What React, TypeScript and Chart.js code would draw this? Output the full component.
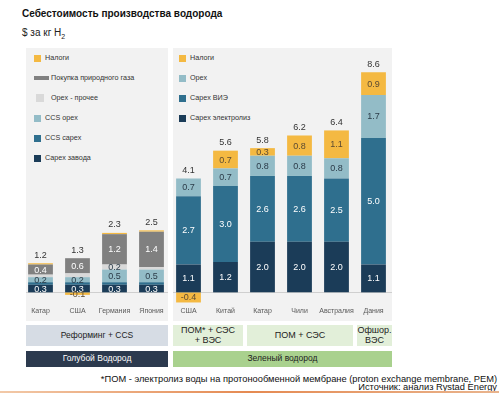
import React, { useEffect, useRef } from 'react';
import { Chart, registerables } from 'chart.js';
Chart.register(...registerables);

const FONT = "'Liberation Sans', Arial, sans-serif";

const blueCategories = ['Катар', 'США', 'Германия', 'Япония'];
const greenCategories = ['США', 'Китай', 'Катар', 'Чили', 'Австралия', 'Дания'];

// Голубой водород (bottom-up)
const blueCapexPlant = [0.3, 0.3, 0.3, 0.3];
const blueCcsCapex = [0.1, 0.1, 0.1, 0.1];
const blueCcsOpex = [0.2, 0.2, 0.5, 0.5];
const blueOpexOther = [0.1, 0.15, 0.2, 0.1];
const blueGas = [0.4, 0.6, 1.2, 1.4];
const blueTaxes = [0.05, -0.1, 0.05, 0.05];
const blueTotals = [1.2, 1.3, 2.3, 2.5];

// Зеленый водород (bottom-up)
const greenCapexElectrolysis = [1.1, 1.2, 2.0, 2.0, 2.0, 1.1];
const greenCapexRenewables = [2.7, 3.0, 2.6, 2.6, 2.5, 5.0];
const greenOpex = [0.7, 0.7, 0.8, 0.8, 0.8, 1.7];
const greenTaxes = [-0.4, 0.7, 0.3, 0.8, 1.1, 0.9];
const greenTotals = [4.1, 5.6, 5.8, 6.2, 6.4, 8.6];

const C = {
  navy: '#1b3c58',
  teal: '#2f6f8e',
  lightTeal: '#93bcc7',
  lightGray: '#d9d9d9',
  gray: '#808080',
  yellow: '#f4b942',
};

const categories = [...blueCategories, ...greenCategories];
const totals = [...blueTotals, ...greenTotals];
const nb = blueCategories.length;
const ng = greenCategories.length;
const padBlue = (a: number[]) => [...a, ...Array(ng).fill(null)];
const padGreen = (a: number[]) => [...Array(nb).fill(null), ...a];

const blueLegend = [
  { label: 'Налоги', color: C.yellow, kind: 'sq' },
  { label: 'Покупка природного газа', color: C.gray, kind: 'wide' },
  { label: 'Opex - прочее', color: C.lightGray, kind: 'big' },
  { label: 'CCS opex', color: C.lightTeal, kind: 'sq' },
  { label: 'CCS capex', color: C.teal, kind: 'sq' },
  { label: 'Capex завода', color: C.navy, kind: 'sq' },
];
const greenLegend = [
  { label: 'Налоги', color: C.yellow, kind: 'sq' },
  { label: 'Opex', color: C.lightTeal, kind: 'sq' },
  { label: 'Capex ВИЭ', color: C.teal, kind: 'sq' },
  { label: 'Capex электролиз', color: C.navy, kind: 'sq' },
];

const labelsPlugin = {
  id: 'segLabels',
  beforeDatasetsDraw(chart: any) {
    const ctx = chart.ctx;
    const xs = chart.scales.x;
    const y0 = Math.round(chart.scales.y.getPixelForValue(0)) + 0.5;
    const mid = (xs.getPixelForValue(nb - 1) + xs.getPixelForValue(nb)) / 2;
    ctx.save();
    ctx.strokeStyle = '#cfcfcf';
    ctx.lineWidth = 1;
    ctx.beginPath();
    ctx.moveTo(chart.chartArea.left + 4, y0);
    ctx.lineTo(mid - 2, y0);
    ctx.moveTo(mid + 3, y0);
    ctx.lineTo(chart.chartArea.right, y0);
    ctx.stroke();
    ctx.restore();
  },
  afterDatasetsDraw(chart: any) {
    const ctx = chart.ctx;
    const ys = chart.scales.y;
    const xs = chart.scales.x;
    ctx.save();
    ctx.textAlign = 'center';
    ctx.textBaseline = 'middle';
    chart.data.datasets.forEach((ds: any, di: number) => {
      const meta = chart.getDatasetMeta(di);
      meta.data.forEach((el: any, i: number) => {
        const v = ds.data[i];
        if (v == null) return;
        if (!(Math.abs(v) >= 0.2 || v < 0)) return;
        const p = el.getProps(['x', 'y', 'base'], true);
        ctx.fillStyle = ds.labelColor;
        ctx.font = `9px ${FONT}`;
        ctx.fillText(v.toFixed(1), p.x, (p.y + p.base) / 2 + 0.5);
      });
    });
    totals.forEach((t, i) => {
      let pos = 0;
      chart.data.datasets.forEach((ds: any) => {
        const v = ds.data[i];
        if (v != null && v > 0) pos += v;
      });
      ctx.fillStyle = '#333333';
      ctx.font = `9px ${FONT}`;
      ctx.fillText(t.toFixed(1), xs.getPixelForValue(i), ys.getPixelForValue(pos) - 8);
    });
    categories.forEach((c, i) => {
      ctx.fillStyle = '#595959';
      ctx.font = `7px ${FONT}`;
      ctx.fillText(c, xs.getPixelForValue(i), chart.chartArea.bottom + 6);
    });
    ctx.restore();
  },
};

function Legend({ items, left, top, textLeft }: any) {
  return (
    <>
      {items.map((it: any, i: number) => {
        const cy = top + i * 20;
        let sw: any;
        let tx = textLeft;
        if (it.kind === 'wide') {
          sw = { left: left, top: cy - 2, width: 15, height: 4 };
          tx = textLeft + 6;
        } else if (it.kind === 'big') {
          sw = { left: left + 2, top: cy - 4, width: 8, height: 8 };
          tx = textLeft + 6;
        } else {
          sw = { left: left, top: cy - 3.5, width: 7, height: 7 };
        }
        return (
          <React.Fragment key={i}>
            <div style={{ position: 'absolute', background: it.color, ...sw }} />
            <div
              style={{
                position: 'absolute',
                left: tx,
                top: cy - 6,
                height: 12,
                lineHeight: '12px',
                fontSize: 7.2,
                color: '#333',
                whiteSpace: 'nowrap',
              }}
            >
              {it.label}
            </div>
          </React.Fragment>
        );
      })}
    </>
  );
}

function Box({ left, top, width, height, bg, color, fontSize, children }: any) {
  return (
    <div
      style={{
        position: 'absolute',
        left,
        top,
        width,
        height,
        background: bg,
        color,
        fontSize,
        display: 'flex',
        alignItems: 'center',
        justifyContent: 'center',
        textAlign: 'center',
        lineHeight: '9.5px',
      }}
    >
      {children}
    </div>
  );
}

export default function App() {
  const ref = useRef<HTMLCanvasElement>(null);
  useEffect(() => {
    const mk = (label: string, data: any[], color: string, labelColor: string) => ({
      label,
      data,
      backgroundColor: color,
      labelColor,
      borderWidth: 0,
      barPercentage: 0.67,
      categoryPercentage: 1,
    });
    const chart = new Chart(ref.current as HTMLCanvasElement, {
      type: 'bar',
      data: {
        labels: categories,
        datasets: [
          mk('Capex завода', padBlue(blueCapexPlant), C.navy, '#ffffff'),
          mk('CCS capex', padBlue(blueCcsCapex), C.teal, '#ffffff'),
          mk('CCS opex', padBlue(blueCcsOpex), C.lightTeal, '#2b3b48'),
          mk('Opex - прочее', padBlue(blueOpexOther), C.lightGray, '#2b3b48'),
          mk('Покупка природного газа', padBlue(blueGas), C.gray, '#ffffff'),
          mk('Налоги', padBlue(blueTaxes), C.yellow, '#5b4a33'),
          mk('Capex электролиз', padGreen(greenCapexElectrolysis), C.navy, '#ffffff'),
          mk('Capex ВИЭ', padGreen(greenCapexRenewables), C.teal, '#ffffff'),
          mk('Opex', padGreen(greenOpex), C.lightTeal, '#2b3b48'),
          mk('Налоги ', padGreen(greenTaxes), C.yellow, '#5b4a33'),
        ] as any,
      },
      options: {
        animation: false,
        responsive: false,
        layout: { padding: { left: 0, right: 0, top: 0, bottom: 17 } },
        plugins: { legend: { display: false }, tooltip: { enabled: false } },
        scales: {
          x: { stacked: true, display: false },
          y: { stacked: true, display: false, min: -0.5, max: 9.5 },
        },
      },
      plugins: [labelsPlugin],
    });
    return () => chart.destroy();
  }, []);

  return (
    <div
      style={{
        position: 'fixed',
        left: 0,
        top: 0,
        width: 499,
        height: 393,
        background: '#fff',
        fontFamily: FONT,
        overflow: 'hidden',
      }}
    >
      <div style={{ position: 'absolute', left: 22, top: 8, fontSize: 10, lineHeight: '12px', fontWeight: 'bold', color: '#111', whiteSpace: 'nowrap' }}>
        Себестоимость производства водорода
      </div>
      <div style={{ position: 'absolute', left: 22, top: 27, fontSize: 10, lineHeight: '12px', color: '#222', whiteSpace: 'nowrap' }}>
        $ за кг H<sub style={{ fontSize: 7, lineHeight: 0 }}>2</sub>
      </div>

      <div style={{ position: 'absolute', left: 26, top: 48, width: 142, height: 273, background: '#f2f2f2' }} />
      <div style={{ position: 'absolute', left: 173, top: 48, width: 219, height: 273, background: '#f2f2f2' }} />

      <Legend items={blueLegend} left={34} top={58} textLeft={45} />
      <Legend items={greenLegend} left={179} top={58} textLeft={190} />

      <canvas ref={ref} width={370} height={270} style={{ position: 'absolute', left: 22, top: 52 }} />

      <Box left={26} top={325} width={142} height={21} bg="#d6dce4" color="#222" fontSize={8.5}>Реформинг + CCS</Box>
      <Box left={26} top={351} width={142} height={16} bg="#2c3a4e" color="#fff" fontSize={8.5}>Голубой Водород</Box>
      <Box left={173} top={325} width={70} height={21} bg="#e2efd9" color="#222" fontSize={9}>ПОМ* + СЭС<br />+ ВЭС</Box>
      <Box left={247} top={325} width={106} height={21} bg="#e2efd9" color="#222" fontSize={9}>ПОМ + СЭС</Box>
      <Box left={357} top={325} width={35} height={21} bg="#e2efd9" color="#222" fontSize={9}>Офшор.<br />ВЭС</Box>
      <Box left={173} top={351} width={219} height={16} bg="#a9d18e" color="#222" fontSize={8.5}>Зеленый водород</Box>

      <div style={{ position: 'absolute', right: 2, top: 376, fontSize: 9.3, color: '#111', whiteSpace: 'nowrap', textAlign: 'right', lineHeight: '7.5px' }}>
        *ПОМ - электролиз воды на протонообменной мембране (proton exchange membrane, PEM)
        <br />
        Источник: анализ Rystad Energy
      </div>
      <div
        style={{
          position: 'absolute',
          left: 0,
          top: 391,
          width: 499,
          height: 2,
          background: 'linear-gradient(90deg, #f2c9a8, #e58a52 50%, #e9b48d)',
        }}
      />
    </div>
  );
}
